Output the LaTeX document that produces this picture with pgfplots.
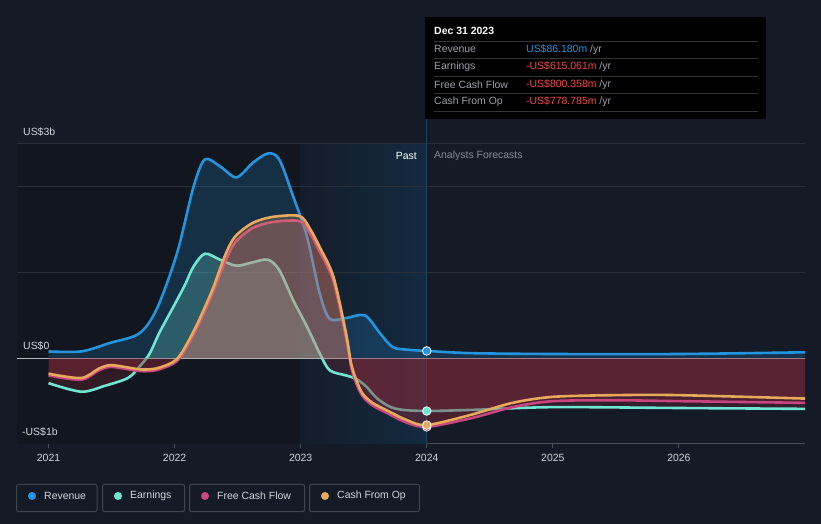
\documentclass[border=0pt]{standalone}
\usepackage{pgfplots}
\usepackage{pgfplotstable}
\pgfplotsset{compat=1.18}
\usepackage{fontspec}
\setmainfont{Liberation Sans}
\definecolor{bgc}{HTML}{151B26}
\definecolor{darkz}{HTML}{12161E}
\definecolor{revc}{HTML}{2394DF}
\definecolor{earnc}{HTML}{6EE6D2}
\definecolor{fcfc}{HTML}{C8457F}
\definecolor{cfoc}{HTML}{E8A95C}
\definecolor{negc}{HTML}{8E2A3A}
\definecolor{gridc}{HTML}{2A303A}
\definecolor{axc}{HTML}{4A505A}
\definecolor{labc}{HTML}{D2D5DA}
\definecolor{grayc}{HTML}{9AA0A8}
\definecolor{redv}{HTML}{F0474E}
\definecolor{vlc}{HTML}{22405E}
\definecolor{pastL}{HTML}{141D2A}
\definecolor{pastR}{HTML}{132A40}

\pgfplotstableread{
x y
2021.00 0.08
2021.26 0.08
2021.49 0.18
2021.72 0.29
2021.86 0.58
2022.02 1.23
2022.15 2.00
2022.24 2.32
2022.36 2.24
2022.49 2.11
2022.62 2.28
2022.74 2.39
2022.83 2.32
2022.94 1.89
2023.05 1.42
2023.15 0.76
2023.23 0.46
2023.36 0.47
2023.51 0.50
2023.63 0.29
2023.73 0.13
2023.85 0.10
2024.00 0.086
2024.35 0.06
2025.00 0.05
2026.00 0.05
2027.00 0.07
}\revtab

\pgfplotstableread{
x y
2021.00 -0.29
2021.26 -0.39
2021.45 -0.32
2021.63 -0.23
2021.72 -0.10
2021.80 0.05
2021.88 0.30
2021.99 0.60
2022.08 0.85
2022.15 1.07
2022.24 1.22
2022.36 1.15
2022.49 1.08
2022.62 1.12
2022.74 1.15
2022.83 1.03
2022.94 0.68
2023.05 0.37
2023.15 0.06
2023.23 -0.14
2023.36 -0.20
2023.44 -0.24
2023.52 -0.33
2023.60 -0.46
2023.70 -0.56
2023.80 -0.60
2024.00 -0.615
2024.40 -0.60
2025.00 -0.57
2026.00 -0.58
2027.00 -0.59
}\earntab

\pgfplotstableread{
x y
2021.00 -0.20
2021.26 -0.25
2021.40 -0.14
2021.49 -0.10
2021.60 -0.12
2021.73 -0.15
2021.85 -0.14
2021.98 -0.07
2022.05 0.02
2022.17 0.33
2022.30 0.75
2022.40 1.12
2022.48 1.35
2022.62 1.52
2022.78 1.59
2022.99 1.60
2023.07 1.47
2023.15 1.25
2023.26 0.90
2023.36 0.24
2023.40 -0.10
2023.44 -0.29
2023.49 -0.44
2023.57 -0.55
2023.70 -0.65
2023.84 -0.75
2024.00 -0.800
2024.35 -0.70
2024.68 -0.57
2025.00 -0.50
2025.50 -0.49
2026.00 -0.50
2027.00 -0.52
}\fcftab

\pgfplotstableread{
x y
2021.00 -0.18
2021.26 -0.23
2021.40 -0.12
2021.49 -0.08
2021.60 -0.10
2021.73 -0.13
2021.85 -0.12
2021.98 -0.05
2022.05 0.05
2022.17 0.37
2022.30 0.80
2022.40 1.20
2022.48 1.42
2022.62 1.58
2022.78 1.65
2022.99 1.66
2023.07 1.52
2023.15 1.30
2023.26 0.95
2023.36 0.29
2023.40 -0.06
2023.44 -0.25
2023.49 -0.41
2023.57 -0.52
2023.70 -0.62
2023.84 -0.72
2024.00 -0.779
2024.35 -0.66
2024.68 -0.52
2025.00 -0.45
2025.50 -0.43
2026.00 -0.43
2027.00 -0.47
}\cfotab

\begin{document}
\begin{tikzpicture}[font=\fontsize{10.5}{12}\selectfont]
\useasboundingbox (0,0) rectangle (821bp,524bp);
\fill[bgc] (0,0) rectangle (821bp,524bp);
\begin{axis}[
  at={(17bp,80bp)}, anchor=south west, scale only axis,
  width=788bp, height=300bp,
  xmin=2020.75, xmax=2027, ymin=-1, ymax=2.5,
  axis x line*=bottom, axis y line=none,
  x axis line style={color=axc, line width=1bp, -},
  xtick={2021,2022,2023,2024,2025,2026},
  xticklabels={2021,2022,2023,2024,2025,2026},
  ytick=\empty,
  tick style={color=axc, line width=1bp},
  major tick length=4bp, tick align=outside,
  xticklabel style={text=labc, font=\fontsize{10.5}{12}\selectfont, yshift=-2.5bp},
  /pgf/number format/assume math mode=true,
  clip=true,
]
\fill[darkz] (axis cs:2020.75,-1) rectangle (axis cs:2023,2.5);
\fill[left color=pastL, right color=pastR] (axis cs:2023,-1) rectangle (axis cs:2024,2.5);
\draw[gridc, line width=1bp] (axis cs:2020.75,1) -- (axis cs:2027,1);
\draw[gridc, line width=1bp] (axis cs:2020.75,2) -- (axis cs:2027,2);
\draw[gridc, line width=1bp] (axis cs:2020.75,2.5) -- (axis cs:2027,2.5);
\draw[vlc, line width=1bp] (axis cs:2024,-1) -- (axis cs:2024,2.5);
\draw[labc!85!bgc, line width=1.2bp] (axis cs:2020.75,0) -- (axis cs:2027,0);

% Revenue
\addplot[fill=revc, fill opacity=0.2, draw=none, smooth, tension=0.5] table {\revtab} \closedcycle;
\addplot[revc, line width=2.6bp, smooth, tension=0.5] table {\revtab};

% Earnings fills
\addplot[fill=negc, fill opacity=0.25, draw=none, smooth, tension=0.5] coordinates {
(2021.00,-0.29) (2021.26,-0.39) (2021.45,-0.32) (2021.63,-0.23) (2021.72,-0.10) (2021.773,0)} \closedcycle;
\addplot[fill=earnc, fill opacity=0.25, draw=none, smooth, tension=0.5] coordinates {
(2021.773,0) (2021.80,0.05) (2021.88,0.30) (2021.99,0.60) (2022.08,0.85) (2022.15,1.07) (2022.24,1.22) (2022.36,1.15) (2022.49,1.08) (2022.62,1.12) (2022.74,1.15) (2022.83,1.03) (2022.94,0.68) (2023.05,0.37) (2023.15,0.06) (2023.174,0)} \closedcycle;
\addplot[fill=negc, fill opacity=0.25, draw=none, smooth, tension=0.5] coordinates {
(2023.174,0) (2023.23,-0.14) (2023.36,-0.20) (2023.44,-0.24) (2023.52,-0.33) (2023.60,-0.46) (2023.70,-0.56) (2023.80,-0.60) (2024.00,-0.615) (2024.40,-0.60) (2025.00,-0.57) (2026.00,-0.58) (2027.00,-0.59)} \closedcycle;
\addplot[earnc, line width=2.6bp, smooth, tension=0.5] table {\earntab};

% FCF fills
\addplot[fill=negc, fill opacity=0.25, draw=none, smooth, tension=0.5] coordinates {
(2021.00,-0.20) (2021.26,-0.25) (2021.40,-0.14) (2021.49,-0.10) (2021.60,-0.12) (2021.73,-0.15) (2021.85,-0.14) (2021.98,-0.07) (2022.034,0)} \closedcycle;
\addplot[fill=fcfc, fill opacity=0.25, draw=none, smooth, tension=0.5] coordinates {
(2022.034,0) (2022.05,0.02) (2022.17,0.33) (2022.30,0.75) (2022.40,1.12) (2022.48,1.35) (2022.62,1.52) (2022.78,1.59) (2022.99,1.60) (2023.07,1.47) (2023.15,1.25) (2023.26,0.90) (2023.36,0.24) (2023.388,0)} \closedcycle;
\addplot[fill=negc, fill opacity=0.25, draw=none, smooth, tension=0.5] coordinates {
(2023.388,0) (2023.40,-0.10) (2023.44,-0.29) (2023.49,-0.44) (2023.57,-0.55) (2023.70,-0.65) (2023.84,-0.75) (2024.00,-0.800) (2024.35,-0.70) (2024.68,-0.57) (2025.00,-0.50) (2025.50,-0.49) (2026.00,-0.50) (2027.00,-0.52)} \closedcycle;
\addplot[fcfc, line width=2.6bp, smooth, tension=0.5] table {\fcftab};

% CFO fills
\addplot[fill=negc, fill opacity=0.25, draw=none, smooth, tension=0.5] coordinates {
(2021.00,-0.18) (2021.26,-0.23) (2021.40,-0.12) (2021.49,-0.08) (2021.60,-0.10) (2021.73,-0.13) (2021.85,-0.12) (2021.98,-0.05) (2022.015,0)} \closedcycle;
\addplot[fill=cfoc, fill opacity=0.25, draw=none, smooth, tension=0.5] coordinates {
(2022.015,0) (2022.05,0.05) (2022.17,0.37) (2022.30,0.80) (2022.40,1.20) (2022.48,1.42) (2022.62,1.58) (2022.78,1.65) (2022.99,1.66) (2023.07,1.52) (2023.15,1.30) (2023.26,0.95) (2023.36,0.29) (2023.393,0)} \closedcycle;
\addplot[fill=negc, fill opacity=0.25, draw=none, smooth, tension=0.5] coordinates {
(2023.393,0) (2023.40,-0.06) (2023.44,-0.25) (2023.49,-0.41) (2023.57,-0.52) (2023.70,-0.62) (2023.84,-0.72) (2024.00,-0.779) (2024.35,-0.66) (2024.68,-0.52) (2025.00,-0.45) (2025.50,-0.43) (2026.00,-0.43) (2027.00,-0.47)} \closedcycle;
\addplot[cfoc, line width=2.6bp, smooth, tension=0.5] table {\cfotab};

% markers
\addplot[only marks, mark=*, mark size=4.3bp, mark options={fill=fcfc, draw=white, line width=0.8bp}] coordinates {(2024,-0.800)};
\addplot[only marks, mark=*, mark size=4.3bp, mark options={fill=cfoc, draw=white, line width=0.8bp}] coordinates {(2024,-0.779)};
\addplot[only marks, mark=*, mark size=4.3bp, mark options={fill=earnc, draw=white, line width=0.8bp}] coordinates {(2024,-0.615)};
\addplot[only marks, mark=*, mark size=4.3bp, mark options={fill=revc, draw=white, line width=0.8bp}] coordinates {(2024,0.086)};
\end{axis}

\begin{scope}[x=1bp,y=1bp]
% vertical line up to tooltip
\draw[vlc, line width=1bp] (426.8,380) -- (426.8,405);

% y labels
\node[anchor=west, inner sep=0, text=labc] at (23,392) {US\$3b};
\node[anchor=west, inner sep=0, text=labc] at (23,178) {US\$0};
\node[anchor=west, inner sep=0, text=labc] at (22,92) {-US\$1b};

% Past / forecasts
\node[anchor=east, inner sep=0, text=white] at (417,368) {Past};
\node[anchor=west, inner sep=0, text=grayc!85!bgc] at (434,368) {Analysts Forecasts};

% tooltip
\fill[black] (425,507) rectangle (766,405);
\node[anchor=west, inner sep=0, text=white] at (434,493) {\bfseries Dec 31 2023};
\foreach \yy in {482.3,465.7,448,430.7,413}{\draw[white!20!black, line width=0.8bp] (434,\yy) -- (758,\yy);}
\node[anchor=west, inner sep=0, text=grayc] at (434,474.7) {Revenue};
\node[anchor=west, inner sep=0, text=grayc] at (434,457.3) {Earnings};
\node[anchor=west, inner sep=0, text=grayc] at (434,439.7) {Free Cash Flow};
\node[anchor=west, inner sep=0, text=grayc] at (434,422.7) {Cash From Op};
\node[anchor=west, inner sep=0] at (526,474.7) {\textcolor{revc}{US\$86.180m} \textcolor{grayc}{/yr}};
\node[anchor=west, inner sep=0] at (526,457.3) {\textcolor{redv}{-US\$615.061m} \textcolor{grayc}{/yr}};
\node[anchor=west, inner sep=0] at (526,439.7) {\textcolor{redv}{-US\$800.358m} \textcolor{grayc}{/yr}};
\node[anchor=west, inner sep=0] at (526,422.7) {\textcolor{redv}{-US\$778.785m} \textcolor{grayc}{/yr}};

% legend
\draw[axc!80!bgc, line width=1bp, rounded corners=2bp] (16.5,39.5) rectangle (97,12.5);
\fill[revc] (32,28) circle (4);
\node[anchor=west, inner sep=0, text=labc] at (44,28) {Revenue};
\draw[axc!80!bgc, line width=1bp, rounded corners=2bp] (102.5,39.5) rectangle (184.5,12.5);
\fill[earnc] (118,28) circle (4);
\node[anchor=west, inner sep=0, text=labc] at (130,28) {Earnings};
\draw[axc!80!bgc, line width=1bp, rounded corners=2bp] (189.5,39.5) rectangle (304.5,12.5);
\fill[fcfc] (205,28) circle (4);
\node[anchor=west, inner sep=0, text=labc] at (217,28) {Free Cash Flow};
\draw[axc!80!bgc, line width=1bp, rounded corners=2bp] (309.5,39.5) rectangle (419.5,12.5);
\fill[cfoc] (325,28) circle (4);
\node[anchor=west, inner sep=0, text=labc] at (337,28) {Cash From Op};
\end{scope}
\end{tikzpicture}
\end{document}
